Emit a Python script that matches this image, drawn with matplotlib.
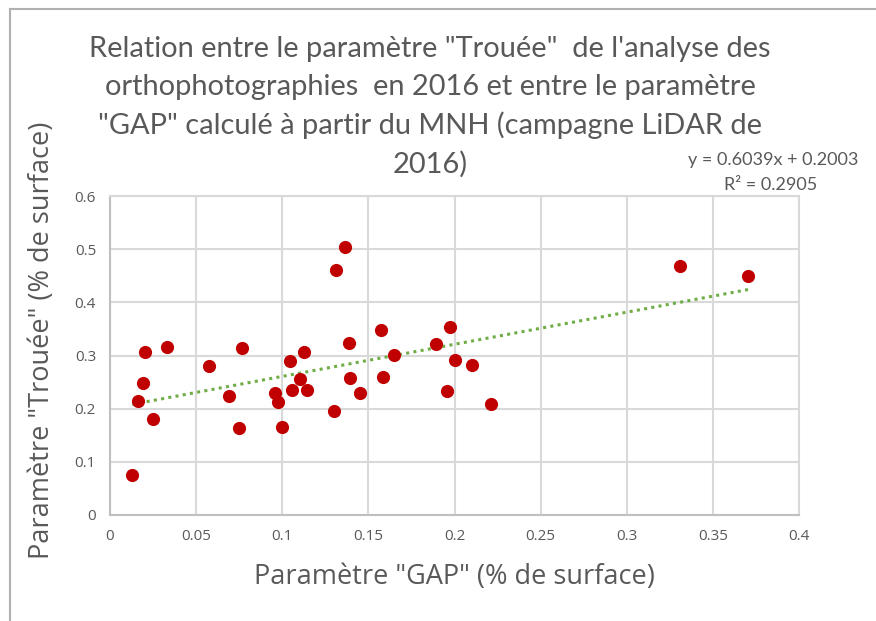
import numpy as np
import matplotlib.pyplot as plt
from matplotlib.lines import Line2D

gap = [0.0129, 0.0163, 0.0190, 0.0203, 0.0251, 0.0329, 0.0576, 0.0693, 0.0747,
       0.0765, 0.0956, 0.0975, 0.1000, 0.1045, 0.1057, 0.1105, 0.1125, 0.1142,
       0.1300, 0.1310, 0.1366, 0.1388, 0.1393, 0.1450, 0.1575, 0.1587, 0.1647,
       0.1891, 0.1956, 0.1972, 0.2005, 0.2100, 0.2210, 0.3307, 0.3704]
trouee = [0.075, 0.214, 0.249, 0.306, 0.181, 0.316, 0.281, 0.224, 0.163,
          0.314, 0.230, 0.212, 0.165, 0.289, 0.236, 0.256, 0.306, 0.235,
          0.195, 0.460, 0.504, 0.323, 0.257, 0.230, 0.348, 0.260, 0.301,
          0.321, 0.233, 0.353, 0.292, 0.283, 0.208, 0.468, 0.450]
pente = 0.6039
ordonnee = 0.2003
r2 = 0.2905

titre = ['Relation entre le paramètre "Trouée"  de l\'analyse des',
         'orthophotographies  en 2016 et entre le paramètre',
         '"GAP" calculé à partir du MNH (campagne LiDAR de',
         '2016)']

narrow = ['Lato', 'DejaVu Sans']
wide = ['Open Sans', 'DejaVu Sans']
gris = '#595959'

fig = plt.figure(figsize=(8.76, 6.21), dpi=100)
ax = fig.add_axes([110/876, 1 - 515/621, 689/876, 319/621])

ax.scatter(gap, trouee, s=90, color='#C00000', zorder=3, linewidths=0)
xs = np.array([min(gap), max(gap)])
ax.plot(xs, pente * xs + ordonnee, color='#70AD47', linestyle=(0, (1, 1.4)),
        linewidth=2.2, zorder=2)

ax.set_xlim(0, 0.4)
ax.set_ylim(0, 0.6)
ax.set_xticks(np.arange(0, 0.401, 0.05))
ax.set_yticks(np.arange(0, 0.601, 0.1))
ax.set_xticklabels(['0', '0.05', '0.1', '0.15', '0.2', '0.25', '0.3', '0.35', '0.4'])
ax.set_yticklabels(['0', '0.1', '0.2', '0.3', '0.4', '0.5', '0.6'])
ax.grid(True, color='#d9d9d9', linewidth=1.5)
ax.set_axisbelow(True)
for s in ['top', 'right']:
    ax.spines[s].set_color('#d9d9d9')
    ax.spines[s].set_linewidth(1.5)
for s in ['left', 'bottom']:
    ax.spines[s].set_color('#bfbfbf')
    ax.spines[s].set_linewidth(1.5)
ax.tick_params(length=0, pad=10, labelsize=11, labelcolor=gris)
for lab in ax.get_xticklabels() + ax.get_yticklabels():
    lab.set_family(wide)

ax.set_xlabel('Paramètre "GAP" (% de surface)', fontsize=19.5, color=gris,
              family=wide, va='center', ha='center')
ax.set_ylabel('Paramètre "Trouée" (% de surface)', fontsize=19.5, color=gris,
              family=wide, va='center', ha='center')
ax.xaxis.set_label_coords(0.5, (515 - 577) / 319)
ax.yaxis.set_label_coords((42 - 110) / 689, (515 - 340) / 319)

for i, ligne in enumerate(titre):
    fig.text(430/876, 1 - (49 + 38.3 * i)/621, ligne, ha='center', va='center',
             fontsize=20.9, color=gris, family=narrow)
fig.text(858/876, 1 - 160/621, f'y = {pente}x + {ordonnee}', ha='right',
         va='center', fontsize=13, color=gris, family=narrow)
fig.text(771/876, 1 - 185/621, f'R² = {r2}', ha='center', va='center',
         fontsize=13, color=gris, family=narrow)

fig.add_artist(Line2D([10/876, 10/876], [0, 1 - 9/621], color='#b0b0b0',
                      linewidth=1.5, transform=fig.transFigure))
fig.add_artist(Line2D([10/876, 1], [1 - 9/621, 1 - 9/621], color='#b0b0b0',
                      linewidth=1.5, transform=fig.transFigure))

fig.savefig('out.png', dpi=100)
